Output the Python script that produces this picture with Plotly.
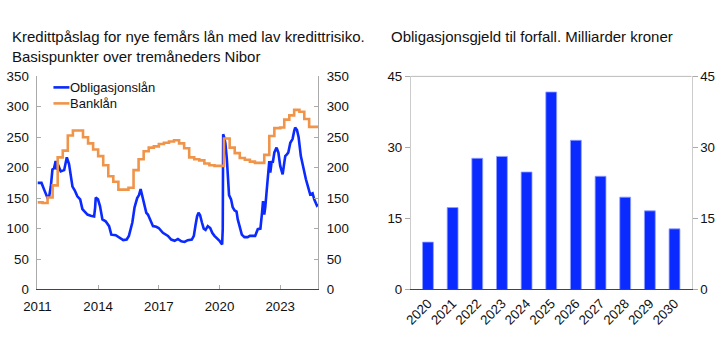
import plotly.graph_objects as go
import pandas as pd

# ---------------- data ----------------
oblig_t = [2011.00, 2011.20, 2011.33, 2011.41, 2011.49, 2011.58, 2011.66, 2011.74, 2011.82, 2011.90,
           2011.95, 2012.02, 2012.15, 2012.32, 2012.45, 2012.56, 2012.64, 2012.73, 2012.84, 2012.97,
           2013.11, 2013.22, 2013.30, 2013.47, 2013.63, 2013.80, 2013.85, 2013.88, 2013.99, 2014.09,
           2014.21, 2014.37, 2014.54, 2014.65, 2014.87, 2015.03, 2015.24, 2015.41, 2015.52, 2015.69,
           2015.80, 2015.93, 2016.02, 2016.10, 2016.18, 2016.26, 2016.38, 2016.46, 2016.59, 2016.71,
           2016.87, 2016.99, 2017.20, 2017.45, 2017.61, 2017.78, 2017.94, 2018.11, 2018.27, 2018.43,
           2018.63, 2018.73, 2018.81, 2018.89, 2018.96, 2019.04, 2019.13, 2019.22, 2019.31, 2019.42,
           2019.54, 2019.64, 2019.75, 2019.88, 2020.00, 2020.08, 2020.13, 2020.16, 2020.18, 2020.23,
           2020.29, 2020.36, 2020.41, 2020.47, 2020.57, 2020.65, 2020.74, 2020.84, 2020.90, 2021.00,
           2021.10, 2021.23, 2021.39, 2021.50, 2021.56, 2021.76, 2021.89, 2022.02, 2022.10, 2022.15,
           2022.21, 2022.26, 2022.33, 2022.41, 2022.46, 2022.51, 2022.58, 2022.63, 2022.71, 2022.82,
           2022.91, 2023.00, 2023.12, 2023.20, 2023.25, 2023.33, 2023.40, 2023.50, 2023.61, 2023.69,
           2023.74, 2023.83, 2023.91, 2024.02, 2024.16, 2024.27, 2024.39, 2024.48, 2024.60, 2024.68,
           2024.81, 2024.87]
oblig_v = [175, 175, 164, 156, 151, 153, 169, 197, 199, 211,
           197, 205, 194, 196, 217, 206, 186, 169, 163, 153,
           148, 132, 129, 123, 121, 120, 135, 151, 148, 137,
           115, 112, 104, 90, 89, 86, 81, 82, 88, 110,
           135, 150, 155, 165, 155, 145, 126, 123, 112, 104,
           103, 101, 93, 88, 82, 80, 83, 79, 78, 81,
           82, 88, 105, 120, 126, 122, 110, 100, 98, 104,
           101, 93, 88, 84, 80, 76, 74, 100, 255, 250,
           240, 215, 180, 155, 148, 135, 130, 128, 115, 100,
           90, 86, 86, 88, 88, 88, 99, 100, 126, 145,
           123, 135, 162, 192, 211, 192, 211, 208, 225, 233,
           225, 203, 189, 208, 219, 222, 225, 241, 247, 260,
           266, 262, 250, 219, 197, 181, 167, 156, 158, 148,
           138, 140]

bank_t = [2011.00, 2011.25, 2011.50, 2011.75, 2012.00, 2012.25, 2012.50, 2012.75, 2013.00, 2013.25,
          2013.50, 2013.75, 2014.00, 2014.25, 2014.50, 2014.75, 2015.00, 2015.25, 2015.50, 2015.75,
          2016.00, 2016.25, 2016.50, 2016.75, 2017.00, 2017.25, 2017.50, 2017.75, 2018.00, 2018.25,
          2018.50, 2018.75, 2019.00, 2019.25, 2019.50, 2019.75, 2020.00, 2020.22, 2020.50, 2020.75,
          2021.00, 2021.25, 2021.50, 2021.75, 2022.00, 2022.21, 2022.46, 2022.71, 2023.00, 2023.20,
          2023.45, 2023.69, 2023.95, 2024.19, 2024.43, 2024.87]
bank_v = [143, 142, 151, 171, 217, 228, 253, 261, 261, 250,
          240, 230, 219, 204, 186, 177, 164, 164, 167, 196,
          214, 227, 233, 235, 239, 241, 243, 245, 240, 232,
          217, 214, 212, 207, 204, 203, 203, 248, 233, 224,
          216, 213, 210, 208, 208, 221, 252, 265, 266, 279,
          286, 295, 292, 280, 267, 267]

left_ticks = [2011, 2014, 2017, 2020, 2023]
series_names = ["Obligasjonslån", "Banklån"]

years = ["2020", "2021", "2022", "2023", "2024", "2025", "2026", "2027", "2028", "2029", "2030"]
debt = [10.0, 17.3, 27.7, 28.1, 24.8, 41.7, 31.5, 23.9, 19.5, 16.6, 12.8]


def to_date(y):
    yr = int(y)
    start = pd.Timestamp(year=yr, month=1, day=1)
    end = pd.Timestamp(year=yr + 1, month=1, day=1)
    return start + (end - start) * (y - yr)


oblig_x = [to_date(t) for t in oblig_t]
bank_x = [to_date(t) for t in bank_t]

BLUE = "#0a2aff"
ORANGE = "#f0944a"
FONT = "Liberation Sans, Arial, sans-serif"
W, H = 722, 344
# the page is shown with the browser's body margin and then fitted back to the window;
# target screen pixels are converted to figure coordinates here.
OX, SX = 12.5, 0.982
M, SY = 8, 0.956


def px(x):
    return ((x - OX) / SX) / W


def py(y):
    return 1 - (y / SY - M) / H


fig = go.Figure()
fig.add_trace(go.Scatter(x=oblig_x, y=oblig_v, mode="lines", name=series_names[0],
                         line=dict(color=BLUE, width=2.6), xaxis="x", yaxis="y"))
fig.add_trace(go.Scatter(x=bank_x, y=bank_v, mode="lines", name=series_names[1],
                         line=dict(color=ORANGE, width=2.6, shape="hv"), xaxis="x", yaxis="y"))
fig.add_trace(go.Scatter(x=oblig_x, y=oblig_v, mode="lines", line=dict(width=0, color="rgba(0,0,0,0)"),
                         hoverinfo="skip", showlegend=False, xaxis="x", yaxis="y2"))
fig.add_trace(go.Bar(x=years, y=debt, marker=dict(color=BLUE, line=dict(color="#8fa0ff", width=0.8)),
                     showlegend=False, xaxis="x3", yaxis="y3"))
fig.add_trace(go.Scatter(x=years, y=debt, mode="markers", marker=dict(opacity=0, size=1),
                         hoverinfo="skip", showlegend=False, xaxis="x3", yaxis="y4"))

tickfont = dict(family=FONT, size=13.3, color="#111")
xd_left = [px(36), px(317)]
xd_right = [px(410), px(691)]
yd = [py(290), py(77)]

common_y = dict(showgrid=False, zeroline=False, showline=True, linewidth=1,
                tickfont=tickfont, tickcolor="#aaa")

fig.update_layout(
    width=W, height=H,
    margin=dict(l=0, r=0, t=0, b=0),
    paper_bgcolor="white", plot_bgcolor="white",
    font=dict(family=FONT, size=13.3, color="#111"),
    showlegend=False,
    bargap=0.56,
    xaxis=dict(domain=xd_left, anchor="y", type="date",
               range=[to_date(2011.0), to_date(2024.87)],
               tickvals=[to_date(t) for t in left_ticks],
               ticktext=[str(t) for t in left_ticks],
               showgrid=False, zeroline=False, showline=True, linecolor="#444", linewidth=1,
               ticks="inside", ticklen=4, tickcolor="#aaa", tickfont=tickfont, ticklabelstandoff=5),
    yaxis=dict(domain=yd, anchor="x", range=[0, 350], dtick=50, side="left",
               linecolor="#aaa", ticks="inside", ticklen=4, ticklabelstandoff=5, **common_y),
    yaxis2=dict(domain=yd, anchor="x", overlaying="y", range=[0, 350], dtick=50, side="right",
                linecolor="#aaa", ticks="inside", ticklen=4, ticklabelstandoff=5, **common_y),
    xaxis3=dict(domain=xd_right, anchor="y3", type="category", tickangle=-45,
                showgrid=False, zeroline=False, showline=True, linecolor="#444", linewidth=1,
                ticks="", tickfont=tickfont),
    yaxis3=dict(domain=yd, anchor="x3", range=[0, 45], dtick=15, side="left",
                linecolor="#ccc", ticks="outside", ticklen=5, **common_y),
    yaxis4=dict(domain=yd, anchor="x3", overlaying="y3", range=[0, 45], dtick=15, side="right",
                linecolor="#ccc", ticks="outside", ticklen=5, **common_y),
)

fig.add_shape(type="line", xref="x3 domain", yref="y3 domain", x0=0, x1=1, y0=1, y1=1,
              line=dict(color="#bbb", width=1))

leg_colors = [BLUE, ORANGE]
for i, (nm, col) in enumerate(zip(series_names, leg_colors)):
    yy = py(88 + 16 * i)
    fig.add_shape(type="line", xref="paper", yref="paper", x0=px(52), x1=px(68), y0=yy, y1=yy,
                  line=dict(color=col, width=2.6))
    fig.add_annotation(text=nm, xref="paper", yref="paper", x=px(67), y=yy, xanchor="left",
                       yanchor="middle", showarrow=False, font=dict(family=FONT, size=13, color="#111"))

fig.add_annotation(text="Kredittpåslag for nye femårs lån med lav kredittrisiko.<br>Basispunkter over tremåneders Nibor",
                   xref="paper", yref="paper", x=-3.6 / W, y=py(27), xanchor="left", yanchor="top",
                   align="left", showarrow=False, font=dict(family=FONT, size=15, color="#111"))
fig.add_annotation(text="Obligasjonsgjeld til forfall. Milliarder kroner",
                   xref="paper", yref="paper", x=px(388), y=py(27), xanchor="left", yanchor="top",
                   align="left", showarrow=False, font=dict(family=FONT, size=15, color="#111"))

fig.write_html("out.html")
